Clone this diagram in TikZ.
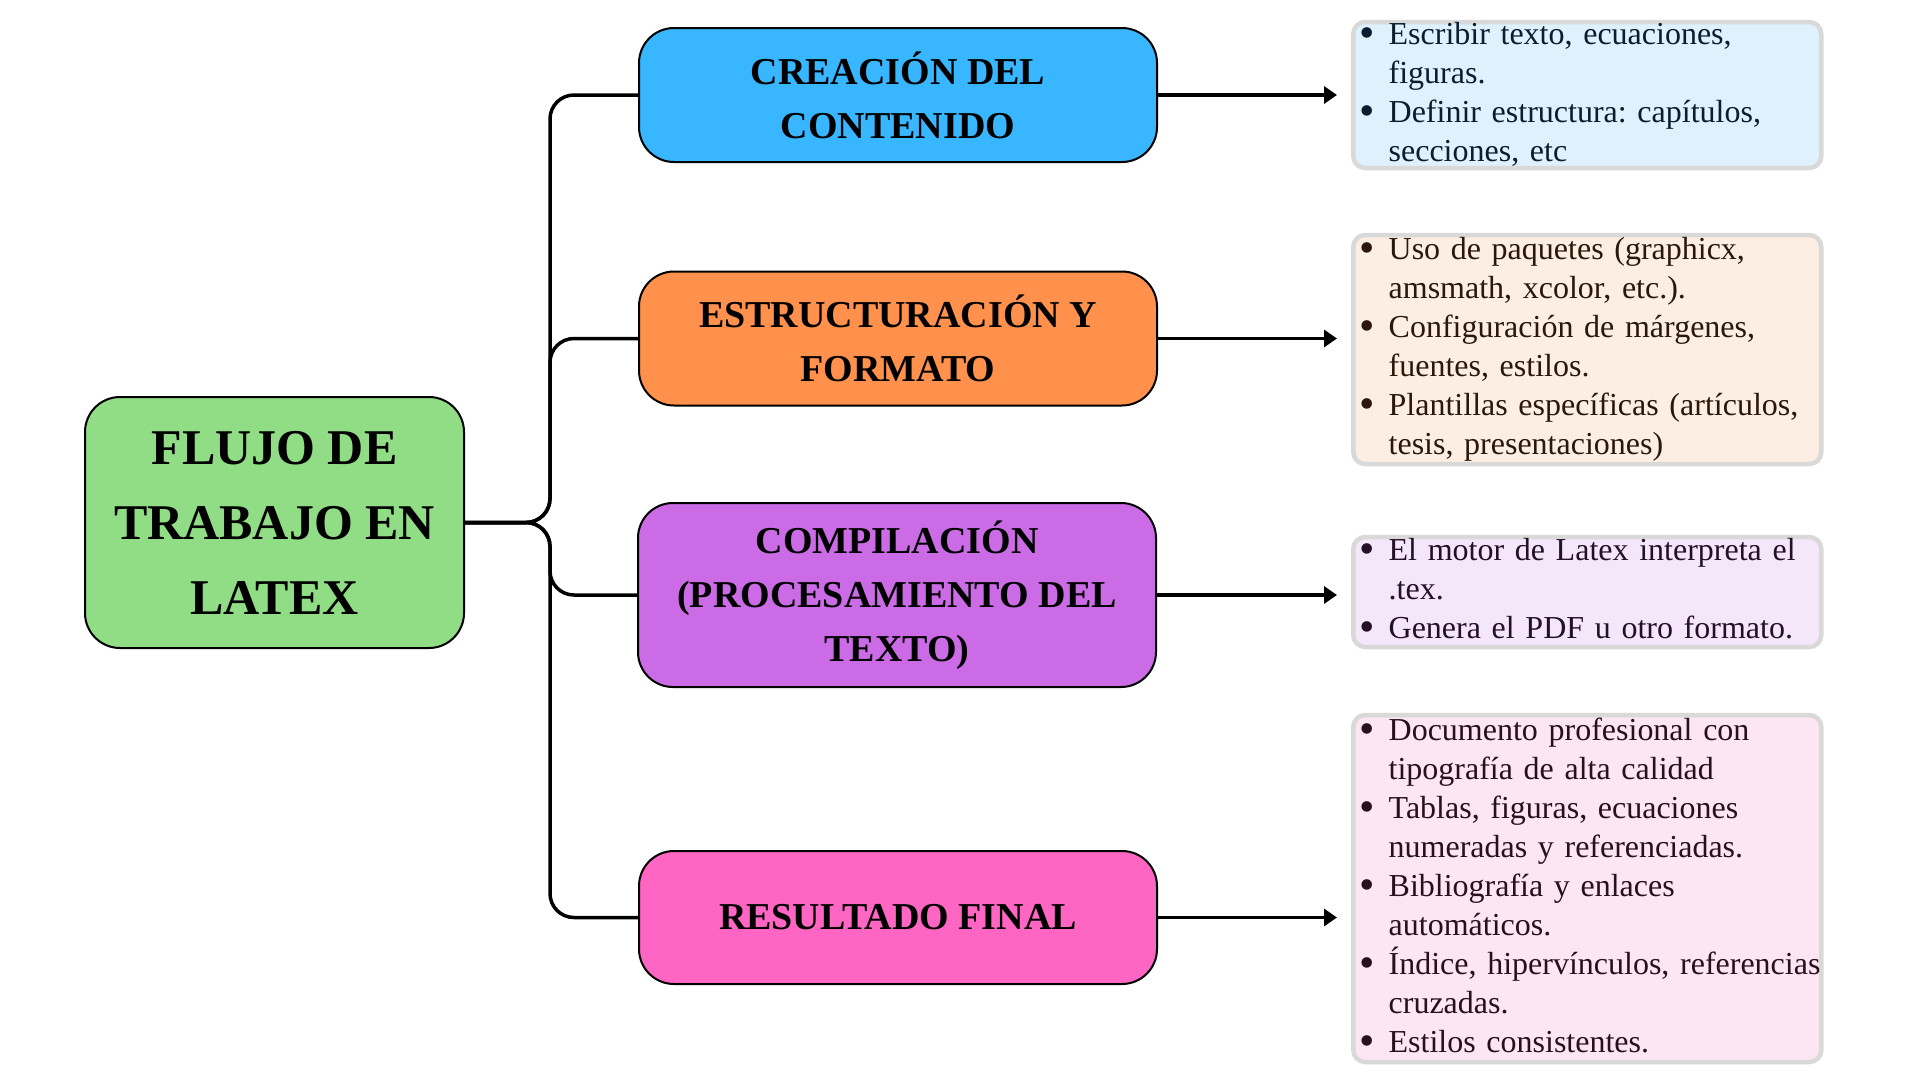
\documentclass[tikz,border=0pt]{standalone}
\usepackage{fontspec}
\setmainfont{Liberation Serif}
\usetikzlibrary{arrows.meta}
\frenchspacing

\definecolor{verde}{HTML}{90DD86}
\definecolor{azul}{HTML}{38B6FF}
\definecolor{naranja}{HTML}{FF914D}
\definecolor{morado}{HTML}{CB6CE6}
\definecolor{rosa}{HTML}{FF66C4}
\definecolor{azulclaro}{HTML}{DFF1FD}
\definecolor{naranjaclaro}{HTML}{FDEEE4}
\definecolor{moradoclaro}{HTML}{F5E7FA}
\definecolor{rosaclaro}{HTML}{FDE6F3}
\definecolor{gris}{HTML}{D9D9D9}
\definecolor{tintaazul}{HTML}{0B1D2E}
\definecolor{tintanaranja}{HTML}{2B170C}
\definecolor{tintamorado}{HTML}{241029}
\definecolor{tintarosa}{HTML}{2A0F1F}

\newcommand{\vineta}{\raisebox{-3pt}{\fontsize{44}{39}\selectfont\textbullet}}

\tikzset{
    caja/.style={draw=black, line width=2pt, rounded corners=35pt, align=center,
        font=\fontsize{38}{54}\selectfont\bfseries, minimum width=518pt, inner sep=0pt},
    lista/.style={draw=gris, line width=4.5pt, rounded corners=12pt, anchor=west,
        text width=456pt, inner xsep=6pt, inner ysep=-6pt,
        font=\fontsize{32}{39}\selectfont},
    conector/.style={line width=3.5pt, rounded corners=24pt},
    flecha/.style={line width=3.5pt, -{Triangle[length=13pt,width=17pt]}, shorten >=14pt},
}

\begin{document}
\begin{tikzpicture}[x=1pt, y=-1pt]
    \useasboundingbox (0, 0) rectangle (1920, 1080);
    \fill[white] (0, 0) rectangle (1920, 1080);
        % raiz
        \node [caja, fill=verde, minimum width=379pt, minimum height=251pt,
            font=\fontsize{50}{75}\selectfont\bfseries] (flujo) at (274.5, 522.5)
            {FLUJO DE\\TRABAJO EN\\LATEX};
        % etapas
        \node [caja, fill=azul, minimum height=134pt] (creacion) at (898, 95) {CREACIÓN DEL\\CONTENIDO};
        \node [caja, fill=naranja, minimum height=134pt] (estructura) at (898, 338.5) {ESTRUCTURACIÓN Y\\FORMATO};
        \node [caja, fill=morado, minimum height=184pt] (compilacion) at (897, 595) {COMPILACIÓN\\(PROCESAMIENTO DEL\\TEXTO)};
        \node [caja, fill=rosa, minimum height=133pt] (resultado) at (898, 917.5) {RESULTADO FINAL};
        % detalles
        \node [lista, fill=azulclaro, text=tintaazul, minimum height=146pt] (tareas) at (1351, 95) {%
            \begin{tabular}{@{}l@{\hspace{14pt}}l@{}}
            \vineta & Escribir texto, ecuaciones,\\
                    & figuras.\\
            \vineta & Definir estructura: capítulos,\\
                    & secciones, etc
            \end{tabular}};
        \node [lista, fill=naranjaclaro, text=tintanaranja, minimum height=229pt] (paquetes) at (1351, 349.5) {%
            \begin{tabular}{@{}l@{\hspace{14pt}}l@{}}
            \vineta & Uso de paquetes (graphicx,\\
                    & amsmath, xcolor, etc.).\\
            \vineta & Configuración de márgenes,\\
                    & fuentes, estilos.\\
            \vineta & Plantillas específicas (artículos,\\
                    & tesis, presentaciones)
            \end{tabular}};
        \node [lista, fill=moradoclaro, text=tintamorado, minimum height=110pt] (motor) at (1351, 592) {%
            \begin{tabular}{@{}l@{\hspace{14pt}}l@{}}
            \vineta & El motor de Latex interpreta el\\
                    & .tex.\\
            \vineta & Genera el PDF u otro formato.
            \end{tabular}};
        \node [lista, fill=rosaclaro, text=tintarosa, minimum height=347pt] (salida) at (1351, 888.5) {%
            \begin{tabular}{@{}l@{\hspace{14pt}}l@{}}
            \vineta & Documento profesional con\\
                    & tipografía de alta calidad\\
            \vineta & Tablas, figuras, ecuaciones\\
                    & numeradas y referenciadas.\\
            \vineta & Bibliografía y enlaces\\
                    & automáticos.\\
            \vineta & Índice, hipervínculos, referencias\\
                    & cruzadas.\\
            \vineta & Estilos consistentes.
            \end{tabular}};
        % llave
        \coordinate (eje) at (550, 522.5);
        \draw[conector] (flujo.east) -- (eje) |- (creacion.west);
        \draw[conector] (flujo.east) -- (eje) |- (estructura.west);
        \draw[conector] (flujo.east) -- (eje) |- (compilacion.west);
        \draw[conector] (flujo.east) -- (eje) |- (resultado.west);
        % flechas
        \draw[flecha] (creacion.east) -- (creacion.east -| tareas.west);
        \draw[flecha] (estructura.east) -- (estructura.east -| paquetes.west);
        \draw[flecha] (compilacion.east) -- (compilacion.east -| motor.west);
        \draw[flecha] (resultado.east) -- (resultado.east -| salida.west);
    \end{tikzpicture}
\end{document}
